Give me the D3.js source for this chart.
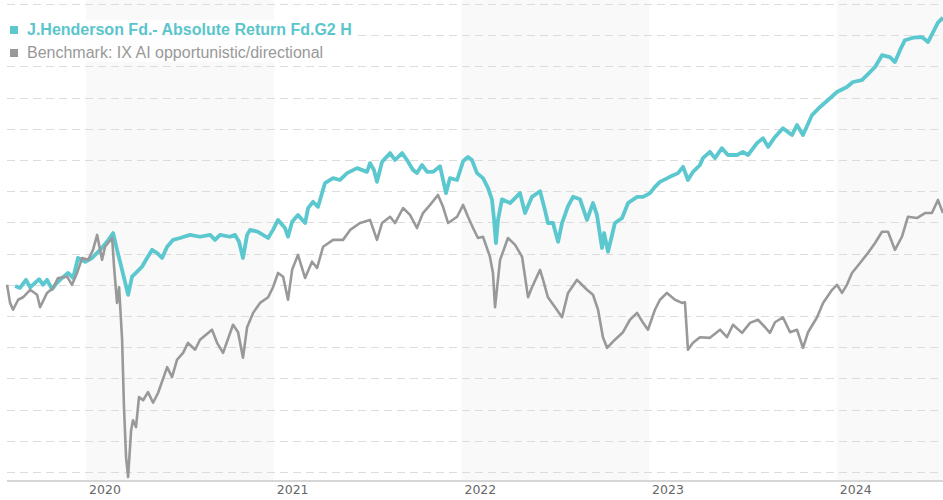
<!DOCTYPE html>
<html lang="en">
<head>
    <meta charset="UTF-8">
    <title>J.Henderson Fd. vs Benchmark</title>
    <script src="https://cdn.jsdelivr.net/npm/d3@7"></script>
    <style>
        body {
            margin: 0;
            background: #fff;
        }
        svg {
            display: block;
        }
    </style>
</head>
<body>
<svg id="chart" width="943" height="500"></svg>
<script>
    // time in decimal years, values indexed (start = 100)
    const fundName = "J.Henderson Fd.- Absolute Return Fd.G2 H";
    const benchName = "Benchmark: IX AI opportunistic/directional";

    const fundTime = [2019.622, 2019.648, 2019.680, 2019.702, 2019.728, 2019.750, 2019.771, 2019.792, 2019.819, 2019.845,
        2019.872, 2019.904, 2019.931, 2019.957, 2019.995, 2020.032, 2020.075, 2020.112, 2020.144, 2020.165,
        2020.181, 2020.208, 2020.224, 2020.245, 2020.272, 2020.298, 2020.325, 2020.352, 2020.378, 2020.405,
        2020.432, 2020.464, 2020.501, 2020.554, 2020.607, 2020.661, 2020.687, 2020.714, 2020.767, 2020.794,
        2020.815, 2020.836, 2020.858, 2020.874, 2020.916, 2020.970, 2020.996, 2021.023, 2021.060, 2021.076,
        2021.098, 2021.129, 2021.167, 2021.183, 2021.209, 2021.236, 2021.273, 2021.316, 2021.353, 2021.391,
        2021.444, 2021.497, 2021.513, 2021.534, 2021.550, 2021.577, 2021.620, 2021.646, 2021.684, 2021.710,
        2021.742, 2021.763, 2021.790, 2021.817, 2021.849, 2021.886, 2021.918, 2021.939, 2021.977, 2022.009,
        2022.035, 2022.056, 2022.083, 2022.115, 2022.142, 2022.163, 2022.174, 2022.184, 2022.195, 2022.216,
        2022.259, 2022.312, 2022.339, 2022.376, 2022.419, 2022.445, 2022.461, 2022.488, 2022.515, 2022.536,
        2022.568, 2022.595, 2022.632, 2022.669, 2022.701, 2022.722, 2022.749, 2022.760, 2022.781, 2022.818,
        2022.856, 2022.888, 2022.936, 2022.968, 2023.005, 2023.031, 2023.058, 2023.111, 2023.154, 2023.181,
        2023.207, 2023.234, 2023.271, 2023.287, 2023.324, 2023.351, 2023.388, 2023.420, 2023.468, 2023.500,
        2023.527, 2023.575, 2023.607, 2023.634, 2023.671, 2023.713, 2023.761, 2023.788, 2023.820, 2023.868,
        2023.911, 2023.964, 2024.001, 2024.054, 2024.086, 2024.134, 2024.161, 2024.204, 2024.241, 2024.283,
        2024.310, 2024.337, 2024.363, 2024.406, 2024.454, 2024.486, 2024.512, 2024.539, 2024.566];
    const fundValues = [99.8, 99.5, 100.8, 99.6, 100.3, 100.9, 100.0, 100.8, 99.3, 100.3,
        101.1, 101.9, 101.1, 104.3, 103.7, 104.3, 105.6, 106.9, 108.3, 105.6,
        103.7, 100.4, 98.4, 101.3, 102.1, 102.9, 104.3, 105.6, 105.1, 104.3,
        106.1, 107.2, 107.5, 108.0, 107.7, 108.0, 107.2, 108.0, 107.7, 108.0,
        106.9, 104.3, 108.0, 108.8, 108.5, 107.5, 108.8, 110.4, 109.1, 107.7,
        110.1, 111.2, 109.9, 112.3, 113.3, 112.5, 116.3, 117.1, 116.8, 117.9,
        118.7, 118.1, 119.5, 118.4, 116.5, 119.7, 121.1, 120.0, 121.1, 120.0,
        118.4, 117.9, 119.2, 118.1, 118.1, 119.0, 114.7, 117.1, 116.8, 119.8,
        120.5, 120.0, 117.9, 117.1, 115.5, 113.6, 110.4, 106.7, 110.4, 113.7,
        113.1, 114.7, 111.5, 114.1, 115.0, 112.0, 109.9, 109.9, 106.9, 109.9,
        112.6, 114.1, 113.7, 110.4, 113.1, 111.2, 105.9, 108.3, 105.3, 109.9,
        110.7, 113.1, 114.1, 114.1, 114.7, 115.7, 116.5, 117.3, 117.9, 118.9,
        116.8, 118.1, 119.2, 120.3, 121.3, 120.3, 121.9, 120.8, 120.8, 121.3,
        120.8, 122.7, 123.5, 122.1, 123.7, 125.1, 124.0, 125.6, 124.0, 127.2,
        128.5, 129.9, 130.9, 131.7, 132.5, 132.8, 133.6, 134.9, 136.8, 136.5,
        135.7, 137.6, 139.2, 139.6, 139.7, 138.9, 140.4, 142.0, 142.8];

    const benchTime = [2019.579, 2019.595, 2019.611, 2019.638, 2019.664, 2019.702, 2019.739, 2019.755, 2019.792, 2019.824,
        2019.851, 2019.899, 2019.925, 2019.952, 2019.979, 2020.011, 2020.037, 2020.059, 2020.085, 2020.101,
        2020.139, 2020.149, 2020.165, 2020.176, 2020.192, 2020.202, 2020.213, 2020.224, 2020.240, 2020.250,
        2020.266, 2020.282, 2020.304, 2020.330, 2020.357, 2020.384, 2020.432, 2020.458, 2020.485, 2020.517,
        2020.543, 2020.581, 2020.607, 2020.671, 2020.698, 2020.730, 2020.783, 2020.810, 2020.836, 2020.858,
        2020.890, 2020.927, 2020.970, 2020.996, 2021.023, 2021.050, 2021.076, 2021.098, 2021.129, 2021.167,
        2021.204, 2021.231, 2021.263, 2021.316, 2021.369, 2021.407, 2021.460, 2021.513, 2021.550, 2021.577,
        2021.620, 2021.646, 2021.689, 2021.726, 2021.763, 2021.795, 2021.833, 2021.875, 2021.902, 2021.929,
        2021.977, 2022.009, 2022.035, 2022.062, 2022.088, 2022.115, 2022.152, 2022.168, 2022.179, 2022.206,
        2022.248, 2022.286, 2022.323, 2022.339, 2022.355, 2022.376, 2022.419, 2022.435, 2022.461, 2022.499,
        2022.536, 2022.568, 2022.616, 2022.669, 2022.701, 2022.728, 2022.754, 2022.776, 2022.818, 2022.861,
        2022.898, 2022.936, 2022.968, 2022.994, 2023.031, 2023.058, 2023.095, 2023.138, 2023.175, 2023.191,
        2023.207, 2023.234, 2023.271, 2023.324, 2023.378, 2023.415, 2023.447, 2023.495, 2023.538, 2023.580,
        2023.618, 2023.644, 2023.671, 2023.713, 2023.751, 2023.788, 2023.820, 2023.847, 2023.895, 2023.927,
        2023.975, 2024.001, 2024.028, 2024.054, 2024.081, 2024.124, 2024.166, 2024.204, 2024.241, 2024.273,
        2024.310, 2024.347, 2024.379, 2024.427, 2024.470, 2024.507, 2024.539, 2024.566];
    const benchValues = [100.0, 97.1, 96.0, 97.6, 98.0, 99.2, 98.4, 96.4, 98.7, 99.5,
        101.1, 101.3, 100.0, 101.9, 104.3, 104.0, 105.6, 108.0, 104.0, 106.1,
        107.5, 102.9, 97.1, 99.6, 91.2, 80.4, 72.4, 69.2, 76.7, 78.3,
        77.2, 82.0, 81.5, 82.8, 81.1, 82.7, 86.8, 85.2, 88.0, 89.1,
        90.7, 89.6, 91.2, 92.8, 90.7, 89.1, 93.6, 92.4, 88.3, 93.2,
        95.5, 97.1, 98.0, 99.6, 101.9, 101.3, 97.6, 102.4, 104.8, 101.1,
        103.7, 102.7, 106.1, 107.2, 107.2, 108.8, 109.9, 110.4, 107.2, 109.9,
        110.9, 109.9, 112.3, 111.2, 109.1, 111.5, 112.8, 114.4, 112.5, 109.9,
        110.9, 112.8, 110.9, 109.1, 107.5, 107.7, 104.5, 101.9, 96.4, 104.0,
        107.5, 106.4, 104.5, 101.3, 98.0, 99.6, 102.4, 100.8, 98.0, 96.4,
        94.8, 98.7, 100.8, 99.2, 98.4, 96.0, 91.6, 89.9, 91.2, 92.4,
        94.4, 95.5, 93.9, 92.8, 96.0, 97.6, 98.7, 97.6, 97.1, 97.2,
        89.6, 90.7, 91.6, 91.5, 92.8, 91.6, 93.6, 92.3, 93.9, 94.4,
        93.2, 92.3, 94.0, 94.8, 92.4, 92.8, 89.9, 92.4, 94.8, 97.1,
        99.2, 100.0, 98.7, 100.0, 101.9, 103.5, 105.1, 106.7, 108.5, 108.5,
        105.6, 107.7, 110.9, 110.7, 111.5, 111.5, 113.6, 111.5];

    const yearTicks = [2020, 2021, 2022, 2023, 2024];
    const shadedYears = [2020, 2022, 2024];
    const gridValues = d3.range(70, 146, 5);

    const W = 943, H = 500;
    const svg = d3.select("#chart");

    const x = d3.scaleLinear().domain([2019.584, 2024.566]).range([8, 943]);
    const y = d3.scaleLinear().domain([70, 145]).range([472, 4]);
    const axisY = 481;

    // alternating year bands
    svg.append("g")
        .selectAll("rect")
        .data(shadedYears)
        .join("rect")
        .attr("x", d => x(d))
        .attr("y", 0)
        .attr("width", d => Math.min(x(d + 1), W) - x(d))
        .attr("height", axisY - 1)
        .attr("fill", "#f9f9f9");

    // dashed grid
    svg.append("g")
        .selectAll("line")
        .data(gridValues)
        .join("line")
        .attr("x1", 7)
        .attr("x2", W)
        .attr("y1", d => Math.round(y(d)) + 0.5)
        .attr("y2", d => Math.round(y(d)) + 0.5)
        .attr("stroke", "#dcdcdc")
        .attr("stroke-width", 1)
        .attr("stroke-dasharray", "8,5");

    // bottom axis
    const xAxis = d3.axisBottom(x)
        .tickValues(yearTicks)
        .tickFormat(d3.format("d"))
        .tickSize(0)
        .tickPadding(0);
    const ax = svg.append("g")
        .attr("transform", `translate(0,${axisY})`)
        .call(xAxis);
    ax.select(".domain")
        .attr("d", `M7,0H${W}`)
        .attr("stroke", "#d6d6d6")
        .attr("stroke-width", 2);
    ax.selectAll(".tick text")
        .attr("text-anchor", "start")
        .attr("x", 2.5)
        .attr("y", 13)
        .attr("dy", 0)
        .attr("fill", "#666")
        .style("font-family", "'DejaVu Sans', Verdana, sans-serif")
        .style("font-size", "12.5px");

    const line = (times) => d3.line()
        .x((d, i) => x(times[i]))
        .y(d => y(d))
        .curve(d3.curveLinear);

    svg.append("path")
        .datum(fundValues)
        .attr("d", line(fundTime))
        .attr("fill", "none")
        .attr("stroke", "#5bc7ce")
        .attr("stroke-width", 3.8)
        .attr("stroke-linejoin", "round");

    svg.append("path")
        .datum(benchValues)
        .attr("d", line(benchTime))
        .attr("fill", "none")
        .attr("stroke", "#999")
        .attr("stroke-width", 2.6)
        .attr("stroke-linejoin", "round");

    // legend
    const legend = svg.append("g");
    legend.append("rect")
        .attr("x", 0).attr("y", 20)
        .attr("width", 357).attr("height", 42)
        .attr("fill", "#fff")
        .attr("opacity", 0.85);

    const items = [
        {name: fundName, color: "#5bc7ce", weight: "bold", text: "#5bc5cc"},
        {name: benchName, color: "#999", weight: "normal", text: "#999"}
    ];
    items.forEach((it, i) => {
        legend.append("rect")
            .attr("x", 10).attr("y", 26 + i * 23)
            .attr("width", 8).attr("height", 8)
            .attr("fill", it.color);
        legend.append("text")
            .attr("x", 27).attr("y", 35 + i * 22.5)
            .attr("fill", it.text)
            .style("font-family", "'Liberation Sans', Arial, sans-serif")
            .style("font-size", "16px")
            .style("font-weight", it.weight)
            .text(it.name);
    });
</script>
</body>
</html>
